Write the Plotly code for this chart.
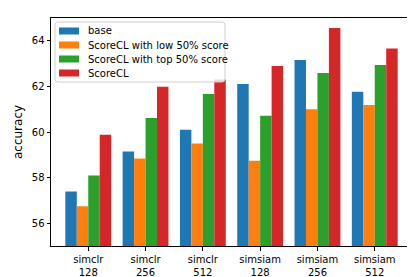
import plotly.graph_objects as go

categories = ["simclr<br>128", "simclr<br>256", "simclr<br>512",
              "simsiam<br>128", "simsiam<br>256", "simsiam<br>512"]
base = [57.39, 59.15, 60.10, 62.10, 63.16, 61.76]
low50 = [56.74, 58.84, 59.50, 58.74, 61.00, 61.18]
top50 = [58.09, 60.61, 61.67, 60.71, 62.59, 62.94]
scorecl = [59.88, 61.98, 62.30, 62.90, 64.56, 63.66]
series_names = ["base", "ScoreCL with low 50% score", "ScoreCL with top 50% score", "ScoreCL"]
colors = ["#1f77b4", "#ff7f0e", "#2ca02c", "#d62728"]
y_ticks = [56, 58, 60, 62, 64]

W, H = 415, 277
L, R, T, B = 43, 11, 10, 39
pw, ph = W - L - R, H - T - B

def px(x):
    return (x - L) / pw

def py(y):
    return 1 - (y - T) / ph

fig = go.Figure()
xs = list(range(len(categories)))
for name, vals, c in zip(series_names, [base, low50, top50, scorecl], colors):
    fig.add_trace(go.Bar(x=xs, y=vals, name=name, showlegend=False,
                         marker=dict(color=c, line=dict(width=0))))

# custom legend (matplotlib style)
bx0, bx1, by0, by1, r = 47, 217, 14, 74, 3
path = (f"M {px(bx0+r)},{py(by0)} L {px(bx1-r)},{py(by0)} Q {px(bx1)},{py(by0)} {px(bx1)},{py(by0+r)} "
        f"L {px(bx1)},{py(by1-r)} Q {px(bx1)},{py(by1)} {px(bx1-r)},{py(by1)} "
        f"L {px(bx0+r)},{py(by1)} Q {px(bx0)},{py(by1)} {px(bx0)},{py(by1-r)} "
        f"L {px(bx0)},{py(by0+r)} Q {px(bx0)},{py(by0)} {px(bx0+r)},{py(by0)} Z")
fig.add_shape(type="path", path=path, xref="paper", yref="paper",
              fillcolor="rgba(255,255,255,0.8)", line=dict(color="#d0d0d0", width=1))
for i, (name, c) in enumerate(zip(series_names, colors)):
    yc = 23 + 14 * i
    fig.add_shape(type="rect", xref="paper", yref="paper",
                  x0=px(51), x1=px(71), y0=py(yc - 3.5), y1=py(yc + 3.5),
                  fillcolor=c, line=dict(width=0))
    fig.add_annotation(x=px(78), y=py(yc), xref="paper", yref="paper", text=name,
                       showarrow=False, xanchor="left", yanchor="middle",
                       font=dict(size=10, color="black"))

fig.update_layout(
    width=W, height=H,
    barmode="group", bargap=0.2, bargroupgap=0,
    margin=dict(l=L, r=R, t=T, b=B, autoexpand=False),
    paper_bgcolor="white", plot_bgcolor="white",
    font=dict(family="DejaVu Sans", size=10, color="black"),
    xaxis=dict(range=[-0.65, 5.65], tickmode="array", tickvals=xs, ticktext=categories,
               showline=True, linecolor="black", linewidth=1, mirror=True,
               ticks="outside", ticklen=3.5, tickcolor="black", showgrid=False, zeroline=False,
               automargin=False),
    yaxis=dict(range=[55, 65], tickvals=y_ticks, title=dict(text="accuracy", standoff=6),
               showline=True, linecolor="black", linewidth=1, mirror=True,
               ticks="outside", ticklen=3.5, tickcolor="black", showgrid=False, zeroline=False,
               automargin=False),
)
fig.write_html("out.html")
